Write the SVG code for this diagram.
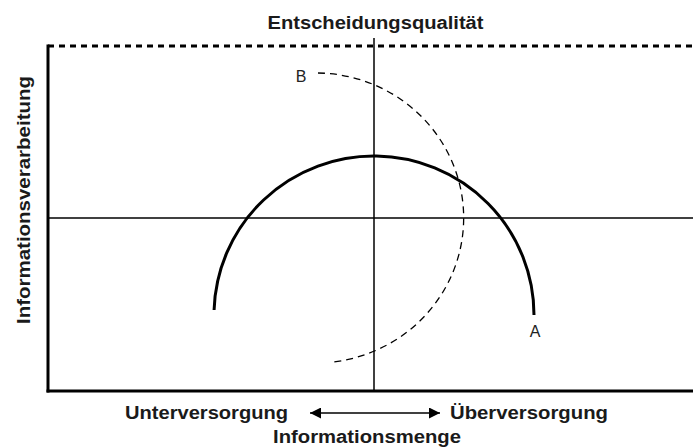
<svg xmlns="http://www.w3.org/2000/svg" width="693" height="448" viewBox="0 0 693 448">
<style>
.lbl{font-family:"Liberation Sans",Arial,sans-serif;font-weight:bold;font-size:17.5px;fill:#1a1a1a}
.pt{font-family:"Liberation Sans",Arial,sans-serif;font-size:16px;fill:#222}
.ax{stroke:#000;fill:none}
</style>
<defs>
<marker id="ah" viewBox="0 0 10 10" refX="10" refY="5" markerWidth="18" markerHeight="11" markerUnits="userSpaceOnUse" orient="auto-start-reverse">
<path d="M0 0 L10 5 L0 10 Z" fill="#000"/>
</marker>
</defs>
<rect width="693" height="448" fill="#fff"/>
<g id="frame">
<line class="ax" x1="48" y1="44.5" x2="48" y2="392.5" stroke-width="3"/>
<line class="ax" x1="46.5" y1="391" x2="693" y2="391" stroke-width="3"/>
<line class="ax" x1="48" y1="46" x2="693" y2="46" stroke-width="3" stroke-dasharray="6 5"/>
</g>
<g id="axes">
<line class="ax" x1="374" y1="38" x2="374" y2="391" stroke-width="1.5"/>
<line class="ax" x1="48" y1="218" x2="693" y2="218" stroke-width="1.5"/>
</g>
<g id="curveA">
<path class="ax" d="M214.08 310 A160 159 0 0 1 534 315" stroke-width="3"/>
<text class="pt" x="535" y="337" text-anchor="middle">A</text>
</g>
<g id="curveB">
<path class="ax" d="M318 73 A148 145 0 0 1 330 362.3" stroke-width="1.3" stroke-dasharray="7 5"/>
<text class="pt" x="301" y="82" text-anchor="middle">B</text>
</g>
<g id="labels">
<text class="lbl" x="375.5" y="29" text-anchor="middle" textLength="216" lengthAdjust="spacingAndGlyphs">Entscheidungsqualität</text>
<text class="lbl" transform="translate(30,200) rotate(-90)" x="0" y="0" text-anchor="middle" textLength="248" lengthAdjust="spacingAndGlyphs">Informationsverarbeitung</text>
<text class="lbl" x="125" y="419" textLength="163" lengthAdjust="spacingAndGlyphs">Unterversorgung</text>
<text class="lbl" x="450" y="419" textLength="158" lengthAdjust="spacingAndGlyphs">Überversorgung</text>
<text class="lbl" x="367" y="443" text-anchor="middle" textLength="188" lengthAdjust="spacingAndGlyphs">Informationsmenge</text>
</g>
<g id="connectors">
<line x1="310" y1="413" x2="440" y2="413" stroke="#000" stroke-width="1.5" marker-start="url(#ah)" marker-end="url(#ah)"/>
</g>
</svg>
